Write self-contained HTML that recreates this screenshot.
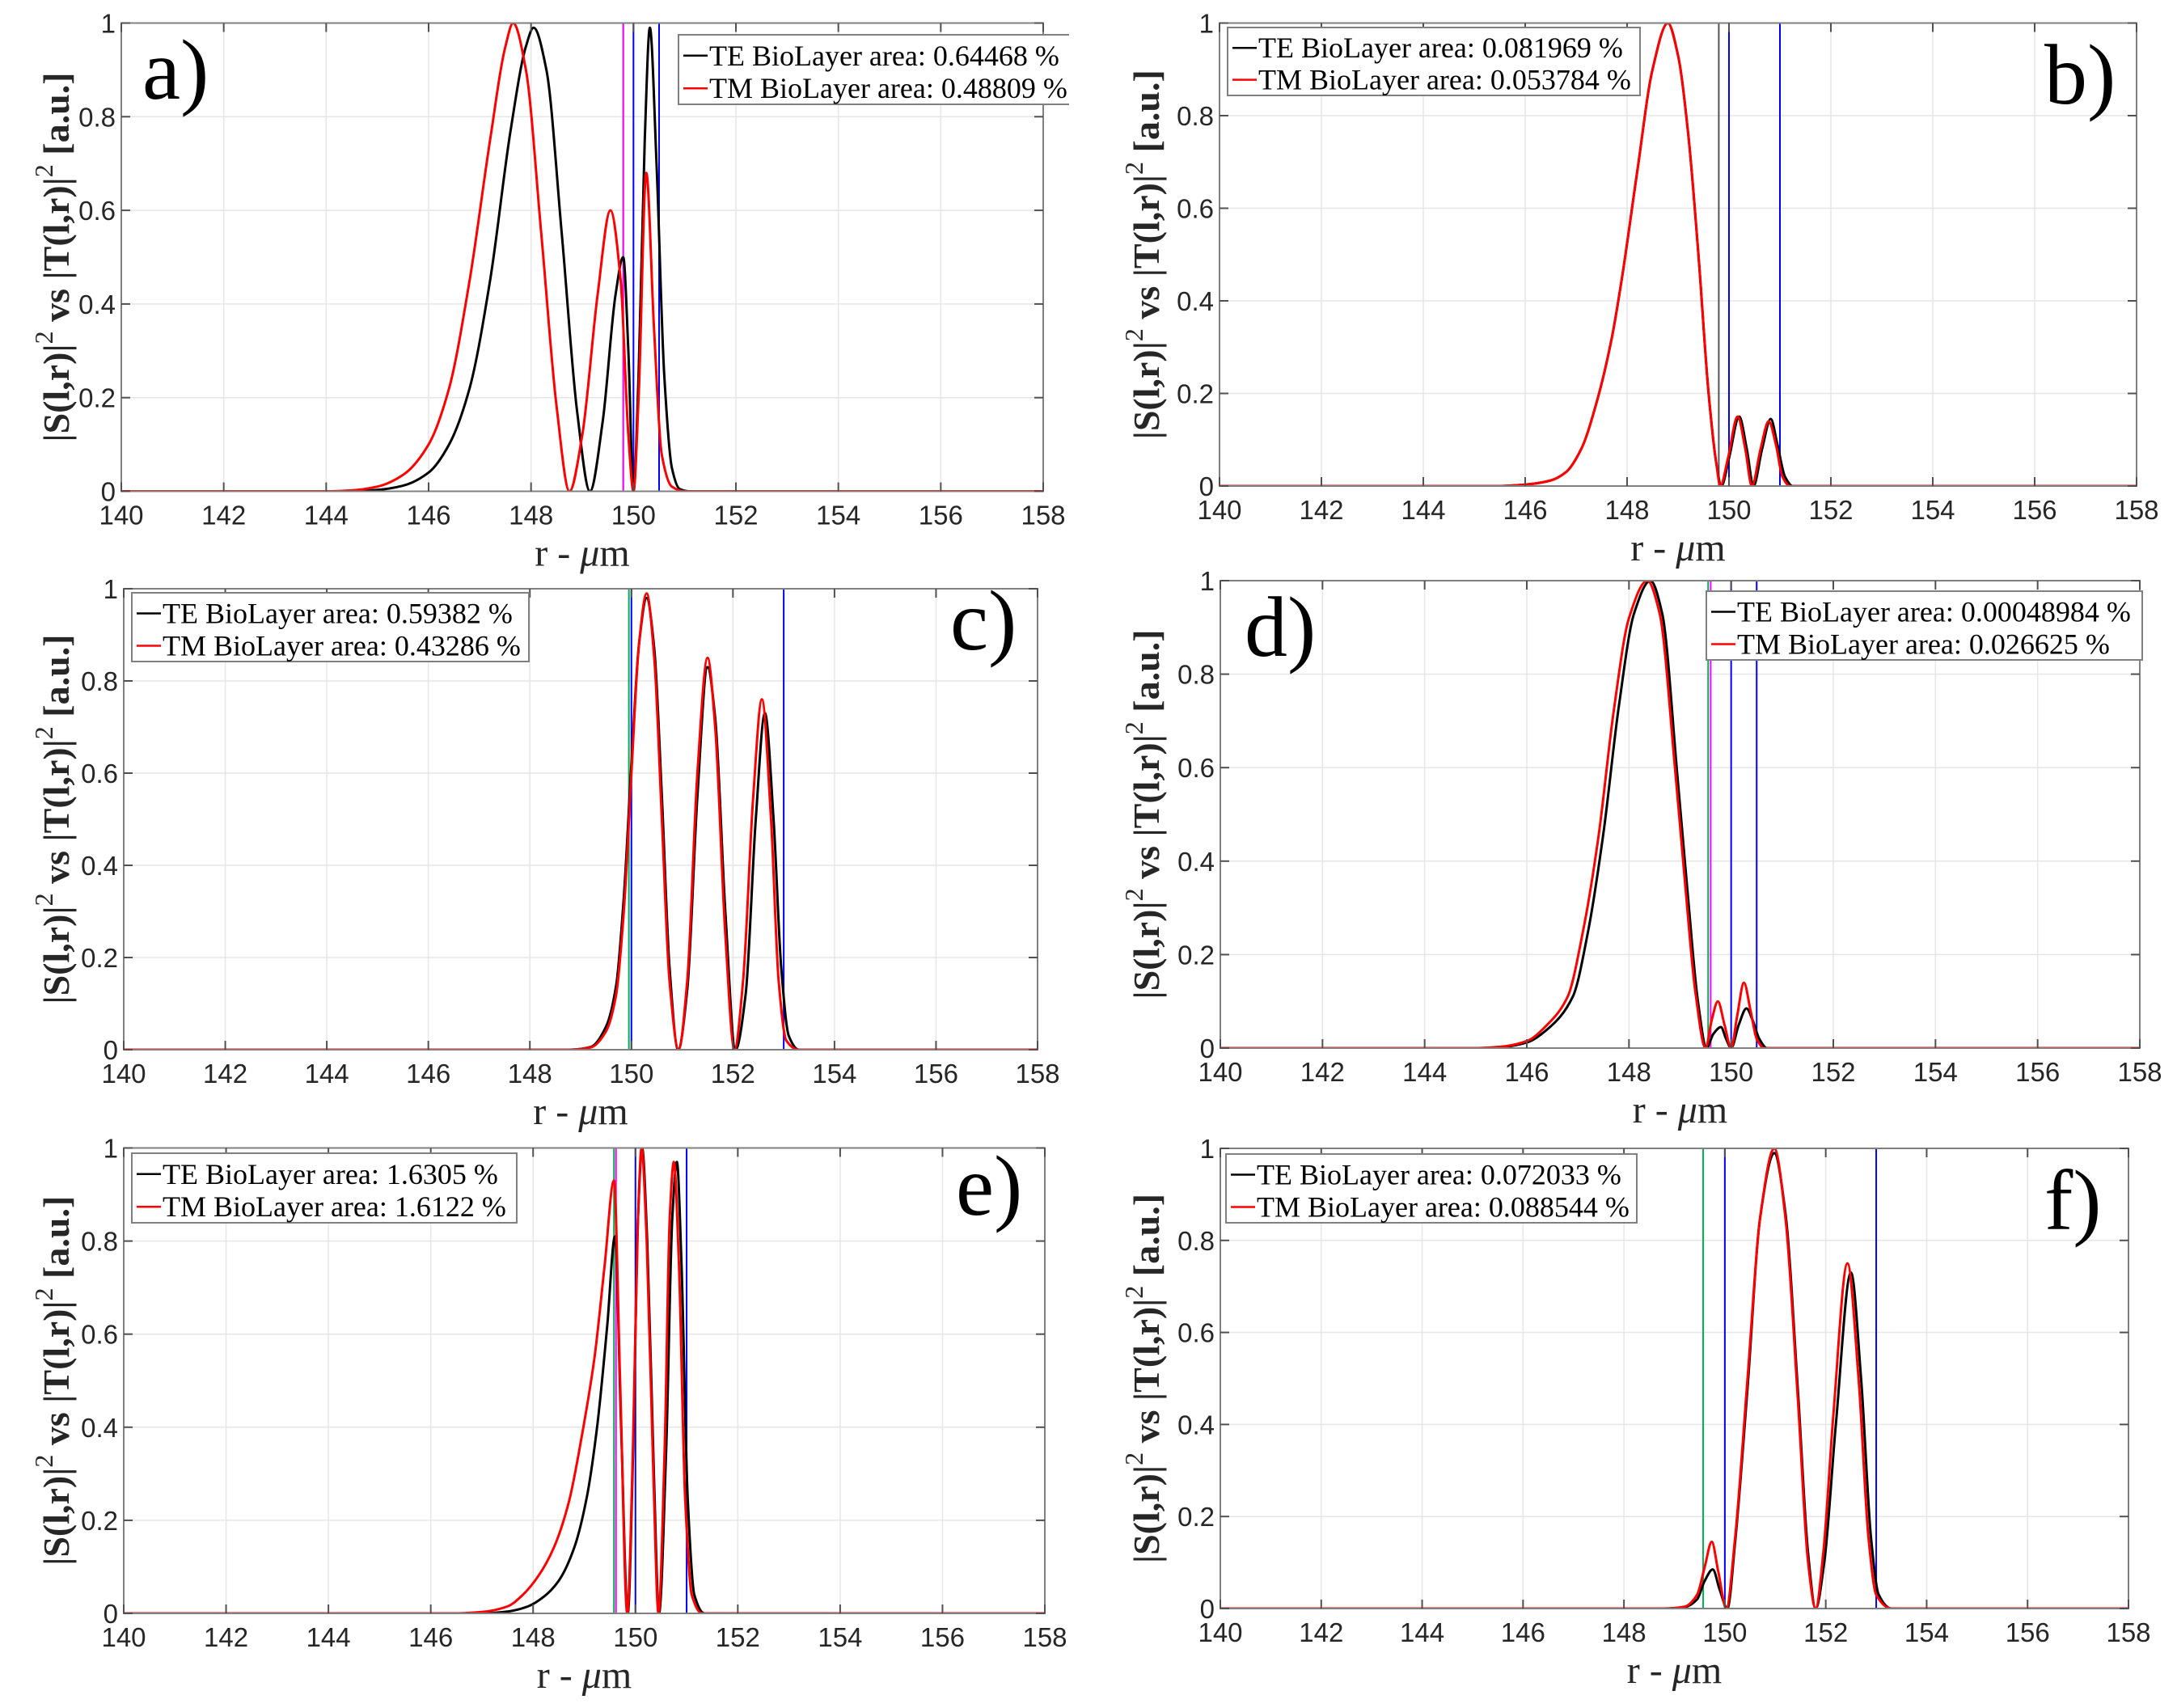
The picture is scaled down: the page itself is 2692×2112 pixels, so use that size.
<!DOCTYPE html>
<html><head><meta charset="utf-8"><title>BioLayer field overlap panels</title>
<style>
html,body{margin:0;padding:0;background:#fff;}
svg{display:block;}
.tick{font-family:"Liberation Sans",Arial,sans-serif;font-size:33px;fill:#262626;}
.serif{font-family:"Liberation Serif","Times New Roman",serif;}
</style></head>
<body>
<svg id="fig" xmlns="http://www.w3.org/2000/svg" width="2692" height="2112" viewBox="0 0 2692 2112">
<rect x="0" y="0" width="2692" height="2112" fill="#fff"/>
</svg>
<script>
// ---- shared axis tick values ----
const xTicks = [140,142,144,146,148,150,152,154,156,158];
const yTicks = [0,0.2,0.4,0.6,0.8,1];
const yTickLabels = ["0","0.2","0.4","0.6","0.8","1"];

// ---- panel a ----
const aTE_r = [140,144.5,145,145.5,146,146.4,146.8,147.2,147.6,147.9,148.05,148.3,148.6,148.9,149.15,149.4,149.65,149.8,149.9,150.0,150.1,150.22,150.32,150.45,150.6,150.75,150.9,151.1,158];
const aTE_v = [0,0,0.003,0.012,0.04,0.1,0.22,0.45,0.77,0.95,0.99,0.9,0.55,0.17,0,0.15,0.42,0.5,0.3,0,0.25,0.75,0.99,0.7,0.25,0.05,0.005,0,0];
const aTM_r = [140,144,144.5,145,145.5,146,146.4,146.8,147.2,147.5,147.65,147.9,148.2,148.5,148.75,149.0,149.3,149.55,149.75,149.9,150.0,150.1,150.25,150.4,150.55,150.75,151,158];
const aTM_v = [0,0,0.002,0.01,0.035,0.1,0.22,0.45,0.75,0.95,1.0,0.9,0.55,0.18,0,0.12,0.42,0.6,0.45,0.12,0,0.2,0.68,0.35,0.08,0.01,0,0];
const aMarks = [149.8,149.8,150.0,150.5];
const aMarkColors = ["#00b050","#ff00ff","#0000ff","#0000ff"];
const aLegend = ["TE BioLayer area: 0.64468 %","TM BioLayer area: 0.48809 %"];

// ---- panel b ----
const bTE_r = [140,145.5,146,146.5,146.8,147.1,147.4,147.7,147.9,148.2,148.5,148.8,149.0,149.2,149.4,149.6,149.75,149.85,150.0,150.2,150.35,150.48,150.65,150.82,150.95,151.1,151.25,158];
const bTE_v = [0,0,0.003,0.012,0.03,0.08,0.18,0.32,0.45,0.68,0.9,1.0,0.93,0.76,0.5,0.2,0.05,0,0.06,0.15,0.08,0,0.08,0.145,0.09,0.02,0,0];
const bTM_r = [140,145.5,146,146.5,146.8,147.1,147.4,147.7,147.9,148.2,148.5,148.8,149.0,149.2,149.4,149.6,149.75,149.83,149.98,150.17,150.32,150.45,150.62,150.78,150.92,151.05,151.2,158];
const bTM_v = [0,0,0.003,0.012,0.03,0.08,0.18,0.32,0.45,0.68,0.9,1.0,0.93,0.76,0.5,0.2,0.05,0,0.06,0.15,0.08,0,0.08,0.14,0.09,0.02,0,0];
const bMarks = [149.8,150.0,151.0];
const bMarkColors = ["#555555","#0000ff","#0000ff"];
const bLegend = ["TE BioLayer area: 0.081969 %","TM BioLayer area: 0.053784 %"];

// ---- panel c ----
const cTE_r = [140,148.8,149.2,149.5,149.7,149.85,150.0,150.15,150.3,150.45,150.6,150.75,150.92,151.1,151.3,151.5,151.65,151.85,152.05,152.25,152.45,152.63,152.8,152.95,153.1,153.3,158];
const cTE_v = [0,0,0.006,0.05,0.14,0.33,0.62,0.88,0.98,0.87,0.55,0.18,0,0.13,0.55,0.83,0.72,0.3,0,0.12,0.5,0.73,0.5,0.18,0.03,0,0];
const cTM_r = [140,148.8,149.2,149.5,149.7,149.85,150.0,150.15,150.3,150.45,150.6,150.75,150.93,151.1,151.3,151.5,151.65,151.85,152.03,152.2,152.4,152.57,152.75,152.9,153.05,153.3,158];
const cTM_v = [0,0,0.005,0.04,0.12,0.3,0.6,0.88,0.99,0.85,0.5,0.15,0,0.15,0.6,0.85,0.7,0.25,0,0.15,0.55,0.76,0.5,0.15,0.02,0,0];
const cMarks = [149.95,150.0,153.0];
const cMarkColors = ["#00b050","#0000ff","#0000ff"];
const cLegend = ["TE BioLayer area: 0.59382 %","TM BioLayer area: 0.43286 %"];

// ---- panel d ----
const dTE_r = [140,145,145.5,146,146.4,146.9,147.2,147.5,147.8,148.1,148.42,148.65,148.95,149.15,149.35,149.52,149.65,149.8,149.9,150.0,150.15,150.3,150.42,150.55,150.7,158];
const dTE_v = [0,0,0.002,0.012,0.04,0.11,0.25,0.46,0.73,0.93,1.0,0.93,0.58,0.33,0.1,0,0.03,0.045,0.02,0,0.05,0.085,0.06,0.02,0,0];
const dTM_r = [140,145,145.5,146,146.4,146.8,147.1,147.4,147.7,148.0,148.36,148.6,148.9,149.1,149.3,149.5,149.62,149.74,149.87,150.0,150.12,150.25,150.38,150.5,150.65,158];
const dTM_v = [0,0,0.003,0.015,0.05,0.11,0.25,0.45,0.72,0.92,1.0,0.93,0.6,0.35,0.12,0,0.06,0.1,0.05,0,0.07,0.14,0.08,0.02,0,0];
const dMarks = [149.55,149.6,150.0,150.5];
const dMarkColors = ["#00b050","#ff00ff","#0000ff","#0000ff"];
const dLegend = ["TE BioLayer area: 0.00048984 %","TM BioLayer area: 0.026625 %"];

// ---- panel e ----
const eTE_r = [140,147,147.5,147.9,148.2,148.5,148.8,149.05,149.25,149.45,149.6,149.72,149.85,149.95,150.05,150.13,150.23,150.36,150.46,150.6,150.72,150.81,150.9,151.02,151.15,151.35,158];
const eTE_v = [0,0,0.004,0.015,0.035,0.07,0.14,0.25,0.4,0.62,0.81,0.4,0,0.33,0.85,1.0,0.8,0.3,0,0.35,0.85,0.97,0.75,0.25,0.04,0,0];
const eTM_r = [140,146.5,147,147.5,147.8,148.1,148.4,148.7,148.95,149.2,149.4,149.58,149.7,149.84,149.95,150.05,150.12,150.22,150.35,150.45,150.57,150.67,150.75,150.85,150.97,151.1,151.3,158];
const eTM_v = [0,0,0.003,0.015,0.04,0.08,0.14,0.24,0.38,0.55,0.75,0.93,0.5,0,0.35,0.85,1.0,0.8,0.3,0,0.35,0.85,0.97,0.75,0.25,0.04,0,0];
const eMarks = [149.58,149.62,150.0,151.0];
const eMarkColors = ["#00b050","#ff00ff","#0000ff","#0000ff"];
const eLegend = ["TE BioLayer area: 1.6305 %","TM BioLayer area: 1.6122 %"];

// ---- panel f ----
const fTE_r = [140,148.8,149.2,149.45,149.6,149.76,149.9,150.05,150.2,150.45,150.7,150.98,151.2,151.45,151.65,151.8,151.97,152.2,152.5,152.7,152.9,153.05,153.3,158];
const fTE_v = [0,0,0.003,0.02,0.06,0.085,0.04,0,0.14,0.48,0.85,0.99,0.86,0.47,0.12,0,0.1,0.4,0.73,0.5,0.15,0.03,0,0];
const fTM_r = [140,148.8,149.2,149.45,149.6,149.74,149.87,150.03,150.2,150.45,150.7,150.98,151.2,151.45,151.65,151.8,151.95,152.15,152.43,152.65,152.85,153.0,153.3,158];
const fTM_v = [0,0,0.004,0.03,0.09,0.145,0.08,0,0.15,0.5,0.85,1.0,0.85,0.45,0.1,0,0.12,0.42,0.75,0.5,0.15,0.03,0,0];
const fMarks = [149.57,150.0,153.0];
const fMarkColors = ["#00b050","#0000ff","#0000ff"];
const fLegend = ["TE BioLayer area: 0.072033 %","TM BioLayer area: 0.088544 %"];

// ---- layout (geometry only) ----
const panels = [
 {id:"a", x0:150, x1:1290, yTop:28.5, yBot:607.5, te:[aTE_r,aTE_v], tm:[aTM_r,aTM_v], marks:aMarks, mc:aMarkColors, legend:aLegend, lg:{x:839,y:43,w:520,h:86}, letter:{x:176,y:122}, ylx:68},
 {id:"b", x0:1508, x1:2642, yTop:28.5, yBot:601, te:[bTE_r,bTE_v], tm:[bTM_r,bTM_v], marks:bMarks, mc:bMarkColors, legend:bLegend, lg:{x:1518,y:34,w:510,h:84}, letter:{x:2528,y:128}, ylx:1416},
 {id:"c", x0:153, x1:1283, yTop:728, yBot:1298, te:[cTE_r,cTE_v], tm:[cTM_r,cTM_v], marks:cMarks, mc:cMarkColors, legend:cLegend, lg:{x:163,y:733,w:491,h:85}, letter:{x:1175,y:803}, ylx:68},
 {id:"d", x0:1509, x1:2646, yTop:718, yBot:1296, te:[dTE_r,dTE_v], tm:[dTM_r,dTM_v], marks:dMarks, mc:dMarkColors, legend:dLegend, lg:{x:2110,y:731,w:539,h:85}, letter:{x:1539,y:811}, ylx:1416},
 {id:"e", x0:153, x1:1292, yTop:1419.5, yBot:1995, te:[eTE_r,eTE_v], tm:[eTM_r,eTM_v], marks:eMarks, mc:eMarkColors, legend:eLegend, lg:{x:163,y:1426,w:476,h:86}, letter:{x:1182,y:1502}, ylx:68},
 {id:"f", x0:1509, x1:2632, yTop:1420, yBot:1989, te:[fTE_r,fTE_v], tm:[fTM_r,fTM_v], marks:fMarks, mc:fMarkColors, legend:fLegend, lg:{x:1516,y:1427,w:508,h:85}, letter:{x:2528,y:1520}, ylx:1416}
];

const NS = "http://www.w3.org/2000/svg";
const svg = document.getElementById("fig");
function mk(tag, attrs, parent){
  const el = document.createElementNS(NS, tag);
  for (const k in attrs) el.setAttribute(k, attrs[k]);
  (parent||svg).appendChild(el);
  return el;
}

function monoPath(xs, ys, sx, sy){
  const n = xs.length, d = [], m = new Array(n).fill(0);
  for (let i=0;i<n-1;i++) d.push((ys[i+1]-ys[i])/(xs[i+1]-xs[i]));
  m[0]=d[0]; m[n-1]=d[n-2];
  for (let i=1;i<n-1;i++){
    if (d[i-1]*d[i] <= 0) m[i]=0;
    else { const w1=2*(xs[i+1]-xs[i])+(xs[i]-xs[i-1]), w2=(xs[i+1]-xs[i])+2*(xs[i]-xs[i-1]);
           m[i]=(w1+w2)/(w1/d[i-1]+w2/d[i]); }
  }
  let p = "M"+sx(xs[0]).toFixed(2)+","+sy(ys[0]).toFixed(2);
  for (let i=0;i<n-1;i++){
    const h = xs[i+1]-xs[i];
    const c1x = xs[i]+h/3, c1y = ys[i]+m[i]*h/3;
    const c2x = xs[i+1]-h/3, c2y = ys[i+1]-m[i+1]*h/3;
    p += " C"+sx(c1x).toFixed(2)+","+sy(c1y).toFixed(2)+" "+sx(c2x).toFixed(2)+","+sy(c2y).toFixed(2)+" "+sx(xs[i+1]).toFixed(2)+","+sy(ys[i+1]).toFixed(2);
  }
  return p;
}

panels.forEach(P => {
  const sx = r => P.x0 + (r-140)/18*(P.x1-P.x0);
  const sy = v => P.yBot - v*(P.yBot-P.yTop);
  const g = mk("g", {});
  
  

  const clipId = "clip-"+P.id;
  const cp = mk("clipPath", {id:clipId}, g);
  mk("rect", {x:P.x0, y:P.yTop, width:P.x1-P.x0, height:P.yBot-P.yTop}, cp);

  const grid = mk("g", {stroke:"#e6e6e6","stroke-width":1.5}, g);
  
  
  xTicks.forEach(t => mk("line",{x1:sx(t),x2:sx(t),y1:P.yTop,y2:P.yBot},grid));
  yTicks.forEach(t => mk("line",{x1:P.x0,x2:P.x1,y1:sy(t),y2:sy(t)},grid));

  P.marks.forEach((r,i) => {
    const l = mk("line",{x1:sx(r),x2:sx(r),y1:P.yTop,y2:P.yBot,stroke:P.mc[i],"stroke-width":2}, g);
    
    
  });

  const curves = mk("g", {"clip-path":"url(#"+clipId+")", fill:"none", "stroke-width":3, "stroke-linejoin":"round"}, g);
  const te = mk("path", {d:monoPath(P.te[0],P.te[1],sx,sy), stroke:"#000"}, curves);
  
  
  const tm = mk("path", {d:monoPath(P.tm[0],P.tm[1],sx,sy), stroke:"#ff0000"}, curves);
  
  

  const ax = mk("rect",{x:P.x0,y:P.yTop,width:P.x1-P.x0,height:P.yBot-P.yTop,fill:"none",stroke:"#808080","stroke-width":2}, g);
  
  
  const tk = mk("g",{stroke:"#505050","stroke-width":2}, g);
  xTicks.forEach(t => { mk("line",{x1:sx(t),x2:sx(t),y1:P.yBot,y2:P.yBot-11},tk); mk("line",{x1:sx(t),x2:sx(t),y1:P.yTop,y2:P.yTop+11},tk); });
  yTicks.forEach(t => { mk("line",{x1:P.x0,x2:P.x0+11,y1:sy(t),y2:sy(t)},tk); mk("line",{x1:P.x1,x2:P.x1-11,y1:sy(t),y2:sy(t)},tk); });

  xTicks.forEach(t => {
    const tx = mk("text",{x:sx(t),y:P.yBot+41,"text-anchor":"middle",class:"tick"}, g);
    tx.textContent = String(t);
    
    
  });
  yTicks.forEach((t,i) => {
    const ty = mk("text",{x:P.x0-7,y:sy(t)+12,"text-anchor":"end",class:"tick"}, g);
    ty.textContent = yTickLabels[i];
    
    
  });

  const xl = mk("text",{x:(P.x0+P.x1)/2,y:P.yBot+92,"text-anchor":"middle",class:"serif","font-size":48,fill:"#262626"}, g);
  
  
  xl.appendChild(document.createTextNode("r - "));
  const mu = mk("tspan",{"font-style":"italic"}, xl); mu.textContent = "μ";
  xl.appendChild(document.createTextNode("m"));

  const cy = (P.yTop+P.yBot)/2;
  const yl = mk("text",{x:0,y:0,transform:"translate("+(P.ylx+17)+","+cy+") rotate(-90)","text-anchor":"middle",class:"serif","font-size":46,"font-weight":"bold",fill:"#262626"}, g);
  
  
  yl.appendChild(document.createTextNode("|S(l,r)|"));
  const s1 = mk("tspan",{dy:-20,"font-size":32,"font-weight":"normal"}, yl); s1.textContent="2";
  const t2 = mk("tspan",{dy:20}, yl); t2.textContent=" vs |T(l,r)|";
  const s2 = mk("tspan",{dy:-20,"font-size":32,"font-weight":"normal"}, yl); s2.textContent="2";
  const t3 = mk("tspan",{dy:20}, yl); t3.textContent=" [a.u.]";

  const lt = mk("text",{x:P.letter.x,y:P.letter.y,class:"serif","font-size":106,fill:"#000"}, g);
  lt.textContent = P.id+")";
  
  

  const lgClip = "lgclip-"+P.id;
  const lcp = mk("clipPath",{id:lgClip}, g);
  mk("rect",{x:0,y:0,width: P.id==="a" ? 1322 : 2692,height:2112}, lcp);
  const lg = mk("g",{"clip-path":"url(#"+lgClip+")"}, g);
  
  
  mk("rect",{x:P.lg.x,y:P.lg.y,width:P.lg.w,height:P.lg.h,fill:"#fff",stroke:"#808080","stroke-width":2}, lg);
  const rowY = [P.lg.y+P.lg.h*0.3, P.lg.y+P.lg.h*0.77];
  const cols = ["#000","#ff0000"];
  P.legend.forEach((s,i) => {
    const e = mk("g",{}, lg);
    
    
    mk("line",{x1:P.lg.x+6,x2:P.lg.x+36,y1:rowY[i],y2:rowY[i],stroke:cols[i],"stroke-width":2.5}, e);
    const tx = mk("text",{x:P.lg.x+38,y:rowY[i]+12,class:"serif","font-size":36,fill:"#000"}, e);
    tx.textContent = s;
  });
});
</script>
</body></html>
